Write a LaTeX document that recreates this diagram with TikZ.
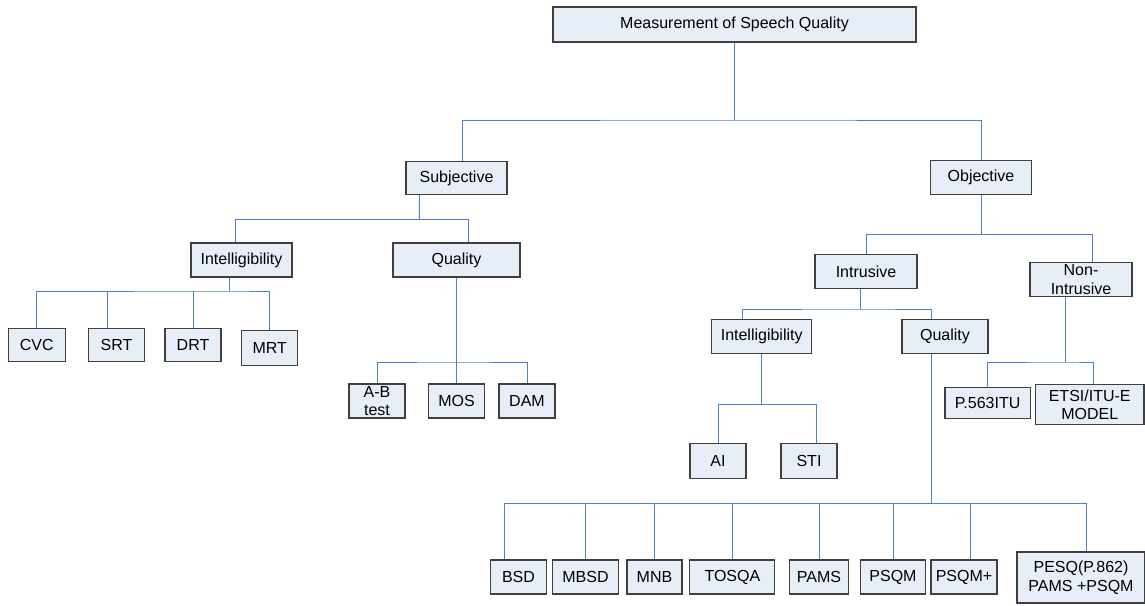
\documentclass[tikz,border=0pt]{standalone}
\usepackage{fontspec}
\setmainfont{Liberation Sans}
\usetikzlibrary{positioning}

\definecolor{boxfill}{RGB}{232,238,248}
\definecolor{boxline}{RGB}{64,64,64}
\definecolor{linkblue}{RGB}{79,129,189}

\begin{document}
\begin{tikzpicture}[x=1pt,y=-1pt,
    box/.style={draw=boxline,fill=boxfill,line width=1.1pt,inner sep=0pt,align=center,
      font=\fontsize{16}{18.5}\selectfont},
    link/.style={draw=linkblue,line width=0.9pt}]
        \useasboundingbox (0,0) rectangle (1145,605);
        % top level
        \node[box,minimum width=363pt,minimum height=35pt] (meas) at (734.5,24.5) {Measurement of Speech Quality};
        \node[box,minimum width=101pt,minimum height=33pt] (subj) at (456.5,178) {Subjective};
        \node[box,minimum width=101pt,minimum height=34pt] (obj) at (981,177.5) {Objective};
        % subjective branch
        \node[box,minimum width=101pt,minimum height=34pt] (intA) at (241.5,260) {Intelligibility};
        \node[box,minimum width=127pt,minimum height=34pt] (qualA) at (456.5,260) {Quality};
        \node[box,minimum width=57pt,minimum height=33.5pt] (cvc) at (36.7,345) {CVC};
        \node[box,minimum width=56.5pt,minimum height=33.5pt] (srt) at (116.5,345) {SRT};
        \node[box,minimum width=56pt,minimum height=33.5pt] (drt) at (193,345) {DRT};
        \node[box,minimum width=56pt,minimum height=34.3pt] (mrt) at (269.7,348) {MRT};
        \node[box,minimum width=56pt,minimum height=34pt] (ab) at (377,401) {A-B\\test};
        \node[box,minimum width=56pt,minimum height=34pt] (mos) at (456.5,401) {MOS};
        \node[box,minimum width=56pt,minimum height=34pt] (dam) at (527,401) {DAM};
        % objective branch
        \node[box,minimum width=102pt,minimum height=34pt] (intr) at (866,271.3) {Intrusive};
        \node[box,minimum width=102pt,minimum height=34pt] (nonintr) at (1081,279.7) {Non-\\Intrusive};
        \node[box,minimum width=100pt,minimum height=34.4pt] (intB) at (761.7,336.5) {Intelligibility};
        \node[box,minimum width=86pt,minimum height=34.4pt] (qualB) at (945,336.5) {Quality};
        \node[box,minimum width=56pt,minimum height=35pt] (ai) at (718,461) {AI};
        \node[box,minimum width=56pt,minimum height=35pt] (sti) at (809,461) {STI};
        \node[box,minimum width=85.3pt,minimum height=31pt] (p563) at (987.6,403.2) {P.563ITU};
        \node[box,minimum width=108.5pt,minimum height=40pt] (etsi) at (1089.7,404.7) {ETSI/ITU-E\\MODEL};
        \node[box,minimum width=56.5pt,minimum height=34pt] (bsd) at (518.5,577) {BSD};
        \node[box,minimum width=65.5pt,minimum height=34pt] (mbsd) at (585.5,577) {MBSD};
        \node[box,minimum width=55pt,minimum height=34pt] (mnb) at (654.5,577) {MNB};
        \node[box,minimum width=85pt,minimum height=34pt] (tosqa) at (732.4,577) {TOSQA};
        \node[box,minimum width=59pt,minimum height=34pt] (pams) at (819,577) {PAMS};
        \node[box,minimum width=64.5pt,minimum height=34pt] (psqm) at (893,577) {PSQM};
        \node[box,minimum width=66pt,minimum height=34pt] (psqmp) at (964,577) {PSQM+};
        \node[box,minimum width=128pt,minimum height=51pt] (pesq) at (1081,577.5) {PESQ(P.862)\\PAMS +PSQM};
        % bus points
        \coordinate (bus0) at (734.5,120);
        \coordinate (sbus) at (419.3,219.5);
        \coordinate (ibus) at (229.5,291);
        \coordinate (qbus) at (456.5,362);
        \coordinate (obus) at (981,234.3);
        \coordinate (tbus) at (860,309);
        \coordinate (abus) at (761.7,404.3);
        \coordinate (nbus) at (1065.4,362);
        \coordinate (pbus) at (931,503.5);
        % connectors
        \draw[link] (meas.south) -- (bus0);
        \draw[link] ([xshift=6pt]subj.north) |- (bus0) -| (obj.north);
        \draw[link] ([xshift=-37pt]subj.south) -- (sbus);
        \draw[link] ([xshift=-6pt]intA.north) |- (sbus) -| ([xshift=11.5pt]qualA.north);
        \draw[link] ([xshift=-12pt]intA.south) -- (ibus);
        \draw[link] (cvc.north) |- (ibus) -| (mrt.north);
        \draw[link] ([xshift=-9pt]srt.north) -- ([xshift=-9pt]srt.north |- ibus);
        \draw[link] (drt.north) -- (drt.north |- ibus);
        \draw[link] (qualA.south) -- (mos.north);
        \draw[link] (ab.north) |- (qbus) -| (dam.north);
        \draw[link] (obj.south) -- (obus);
        \draw[link] (intr.north) |- (obus) -| ([xshift=11pt]nonintr.north);
        \draw[link] ([xshift=-6pt]intr.south) -- (tbus);
        \draw[link] ([xshift=-19pt]intB.north) |- (tbus) -| ([xshift=-14pt]qualB.north);
        \draw[link] (intB.south) -- (abus);
        \draw[link] (ai.north) |- (abus) -| ([xshift=7pt]sti.north);
        \draw[link] ([xshift=-15.6pt]nonintr.south) -- (nbus);
        \draw[link] (p563.north) |- (nbus) -| ([xshift=4pt]etsi.north);
        \draw[link] ([xshift=-14pt]qualB.south) -- (pbus);
        \draw[link] ([xshift=-14pt]bsd.north) |- (pbus) -| ([xshift=5pt]pesq.north);
        \foreach \n in {mbsd,mnb,tosqa,pams,psqm}
            \draw[link] (\n.north) -- (\n.north |- pbus);
        \draw[link] ([xshift=6pt]psqmp.north) -- ([xshift=6pt]psqmp.north |- pbus);
    \end{tikzpicture}
\end{document}
